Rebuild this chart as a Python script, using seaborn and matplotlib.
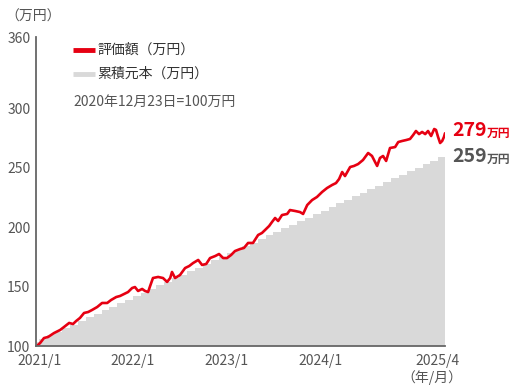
import matplotlib
matplotlib.use("Agg")
import matplotlib.pyplot as plt
import numpy as np
import pandas as pd
import seaborn as sns

sns.set_theme(style="white")
plt.rcParams['font.family'] = ['Noto Sans CJK JP', 'DejaVu Sans']

# 評価額 (万円)
val_dates = [
    "2020-12-23", "2021-01-05", "2021-01-20", "2021-02-05", "2021-02-28", "2021-03-24",
    "2021-04-08", "2021-04-28", "2021-05-13", "2021-05-25", "2021-06-09", "2021-06-25",
    "2021-07-11", "2021-07-26", "2021-08-15", "2021-09-03", "2021-09-23", "2021-10-08",
    "2021-10-28", "2021-11-12", "2021-11-28", "2021-12-13", "2021-12-29", "2022-01-09",
    "2022-01-21", "2022-02-06", "2022-02-17", "2022-03-01", "2022-03-09", "2022-03-20",
    "2022-04-09", "2022-04-28", "2022-05-14", "2022-05-26", "2022-06-02", "2022-06-14",
    "2022-07-03", "2022-07-23", "2022-08-08", "2022-08-23", "2022-09-12", "2022-09-27",
    "2022-10-13", "2022-10-28", "2022-11-17", "2022-12-02", "2022-12-18", "2023-01-02",
    "2023-01-18", "2023-02-02", "2023-02-22", "2023-03-09", "2023-03-25", "2023-04-13",
    "2023-05-03", "2023-05-18", "2023-05-30", "2023-06-15", "2023-06-26", "2023-07-08",
    "2023-07-20", "2023-08-04", "2023-08-24", "2023-09-04", "2023-09-24", "2023-10-13",
    "2023-10-25", "2023-11-10", "2023-11-29", "2023-12-18", "2024-01-07", "2024-01-26",
    "2024-02-15", "2024-03-01", "2024-03-13", "2024-03-25", "2024-04-05", "2024-04-25",
    "2024-05-10", "2024-05-26", "2024-06-14", "2024-07-04", "2024-07-19", "2024-07-31",
    "2024-08-08", "2024-08-19", "2024-08-31", "2024-09-12", "2024-09-27", "2024-10-17",
    "2024-10-29", "2024-11-13", "2024-11-29", "2024-12-14", "2024-12-26", "2025-01-06",
    "2025-01-18", "2025-01-30", "2025-02-11", "2025-02-22", "2025-03-06", "2025-03-18",
    "2025-03-25", "2025-04-02", "2025-04-10", "2025-04-18", "2025-04-25", "2025-04-29",
]
valuation = [
    100.0, 102.5, 106.7, 107.6, 110.9, 113.5,
    116.0, 119.4, 118.5, 121.0, 123.6, 127.8,
    128.6, 130.3, 132.8, 136.2, 136.2, 138.7,
    141.2, 142.1, 143.8, 145.4, 148.8, 149.6,
    146.3, 148.0, 146.3, 145.4, 150.5, 157.2,
    158.1, 157.2, 153.9, 157.2, 162.3, 157.2,
    159.7, 165.6, 167.3, 169.8, 172.4, 168.2,
    169.0, 174.0, 175.7, 177.4, 174.0, 174.0,
    176.6, 179.9, 181.6, 182.5, 186.7, 186.7,
    193.4, 195.1, 197.6, 201.0, 204.3, 207.7,
    205.2, 210.2, 211.1, 214.4, 213.6, 212.7,
    211.1, 218.6, 222.8, 225.4, 229.6, 232.9,
    235.5, 237.1, 240.5, 246.4, 243.0, 250.6,
    251.5, 253.1, 256.5, 262.4, 259.9, 254.8,
    251.5, 258.2, 259.9, 255.7, 266.6, 267.4,
    271.6, 272.5, 273.3, 274.2, 277.5, 280.9,
    278.3, 280.1, 278.3, 280.9, 276.7, 282.6,
    281.8, 275.9, 270.8, 272.5, 275.9, 279.0,
]

# 累積元本 (万円), monthly steps
principal_dates = ["2020-12-23"] + [d.strftime("%Y-%m-%d") for d in pd.date_range("2021-01-01", "2025-04-01", freq="MS")]
principal = [
    103, 106, 109, 112, 115, 118, 121, 124, 127, 130, 133, 136, 139,
    142, 145, 148, 151, 154, 157, 160, 163, 166, 169, 172, 175,
    178, 181, 184, 187, 190, 193, 196, 199, 202, 205, 208, 211,
    214, 217, 220, 223, 226, 229, 232, 235, 238, 241, 244, 247,
    250, 253, 256, 259,
]
end_date = "2025-04-29"

tick_dates = ["2021-01-01", "2022-01-01", "2023-01-01", "2024-01-01", "2025-04-01"]
tick_labels = ["2021/1", "2022/1", "2023/1", "2024/1", "2025/4"]
y_ticks = [100, 150, 200, 250, 300, 360]

RED = "#e60012"
GREY = "#d9d9d9"
AX = "#666666"
TXT = "#555555"

df_val = pd.DataFrame({"date": pd.to_datetime(val_dates), "value": valuation})
p_x = pd.to_datetime(principal_dates + [end_date])
p_y = principal + [principal[-1]]

fig = plt.figure(figsize=(5.2, 3.92), dpi=100)
ax = fig.add_axes([36 / 520, 46 / 392, 409 / 520, 309 / 392])

ax.fill_between(p_x, 100, p_y, step="post", color=GREY, lw=0)
sns.lineplot(data=df_val, x="date", y="value", ax=ax, color=RED, lw=1.9)

ax.set_xlim(pd.Timestamp("2020-12-20"), pd.Timestamp(end_date))
ax.set_ylim(100, 360)
ax.set_xlabel("")
ax.set_ylabel("")

ax.set_xticks(pd.to_datetime(tick_dates + [end_date]))
ax.set_xticklabels(tick_labels + [""])
ax.set_yticks(y_ticks)
ax.tick_params(direction="in", length=6, width=1.2, color=AX, labelcolor=TXT,
               labelsize=10)
ax.tick_params(axis="x", pad=6)
ax.tick_params(axis="y", pad=4)
for s in ["top", "right"]:
    ax.spines[s].set_visible(False)
for s in ["left", "bottom"]:
    ax.spines[s].set_color(AX)
    ax.spines[s].set_linewidth(1.3)

# labels around the axes
fig.text(5 / 520, 1 - 17 / 392, "（万円）", fontsize=10, color=TXT, ha="left", va="center")
fig.text(432 / 520, 1 - 378 / 392, "（年/月）", fontsize=10, color=TXT, ha="center", va="center")

# legend
ax.plot([0.09, 0.144], [0.958, 0.958], transform=ax.transAxes, color=RED, lw=3.5, solid_capstyle="butt")
ax.plot([0.09, 0.144], [0.880, 0.880], transform=ax.transAxes, color=GREY, lw=3.5, solid_capstyle="butt")
fig.text(97 / 520, 1 - 50 / 392, "評価額（万円）", fontsize=10, color="#333333", va="center")
fig.text(97 / 520, 1 - 74 / 392, "累積元本（万円）", fontsize=10, color="#333333", va="center")
fig.text(73 / 520, 1 - 102 / 392, "2020年12月23日=100万円", fontsize=10, color=TXT, va="center")

# end labels
fig.text(452 / 520, 1 - 131 / 392, f"{valuation[-1]:.0f}", fontsize=14, fontweight="bold", color=RED, va="center")
fig.text(487 / 520, 1 - 133 / 392, "万円", fontsize=8.5, fontweight="bold", color=RED, va="center")
fig.text(452 / 520, 1 - 157 / 392, f"{principal[-1]}", fontsize=14, fontweight="bold", color=TXT, va="center")
fig.text(487 / 520, 1 - 159 / 392, "万円", fontsize=8.5, fontweight="bold", color=TXT, va="center")

fig.savefig("out.png", dpi=100)
